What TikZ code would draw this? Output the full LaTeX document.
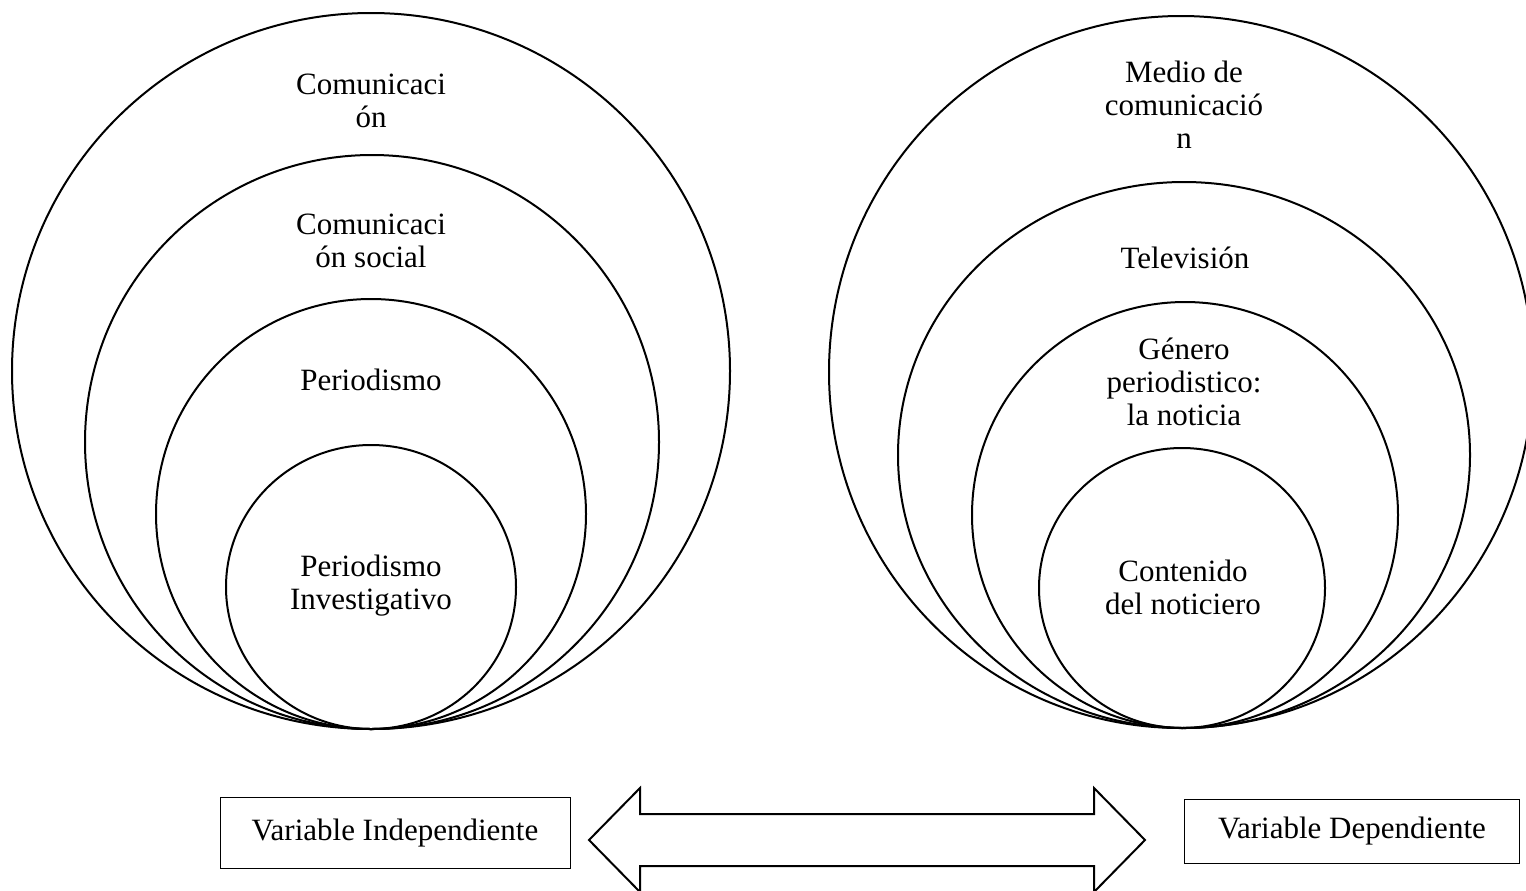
\documentclass[tikz,border=0pt]{standalone}
\usepackage{fontspec}
\setmainfont{Liberation Serif}
\usepackage{tikz}
\usetikzlibrary{positioning}

\begin{document}
\begin{tikzpicture}[x=0.5pt,y=-0.5pt,
	ring/.style={line width=1pt},
	lbl/.style={align=center,inner sep=0pt,font=\fontsize{15.5pt}{16.5pt}\selectfont},
	varbox/.style={draw,line width=0.5pt,inner sep=0pt,font=\fontsize{15.5pt}{16.5pt}\selectfont}]
	\useasboundingbox (0,0) rectangle (1526,890);
	% left
	\draw[ring] (371,371) ellipse (359 and 358);
	\draw[ring] (372,442) ellipse (287 and 287);
	\draw[ring] (371,514) ellipse (215 and 215);
	\draw[ring] (371,587) ellipse (145 and 142);
	\node[lbl] (com) at (371,101) {Comunicaci\\ón};
	\node[lbl] (comsoc) at (371,241) {Comunicaci\\ón social};
	\node[lbl] (per) at (371,380) {Periodismo};
	\node[lbl] (perinv) at (371,586) {Periodismo\\Investigativo};
	% right
	\draw[ring] (1181,372) ellipse (352 and 356);
	\draw[ring] (1184,455) ellipse (286 and 273);
	\draw[ring] (1185,515) ellipse (213 and 213);
	\draw[ring] (1182,588) ellipse (143 and 140);
	\node[lbl] (medio) at (1184,105) {Medio de\\comunicació\\n};
	\node[lbl] (tv) at (1185,258) {Televisión};
	\node[lbl] (gen) at (1184,382) {Género\\periodistico:\\la noticia};
	\node[lbl] (cont) at (1183,587) {Contenido\\del noticiero};
	% variables
	\node[varbox,minimum width=175pt,minimum height=35.5pt] (indep) at (395,833) {Variable Independiente};
	\node[varbox,minimum width=167.5pt,minimum height=32pt] (dep) at (1352,831) {Variable Dependiente};
	\draw[ring] (589,840) -- (640,788) -- (640,814) -- (1094,814) -- (1094,788) -- (1145,840)
		-- (1094,892) -- (1094,866) -- (640,866) -- (640,892) -- cycle;
\end{tikzpicture}
\end{document}
